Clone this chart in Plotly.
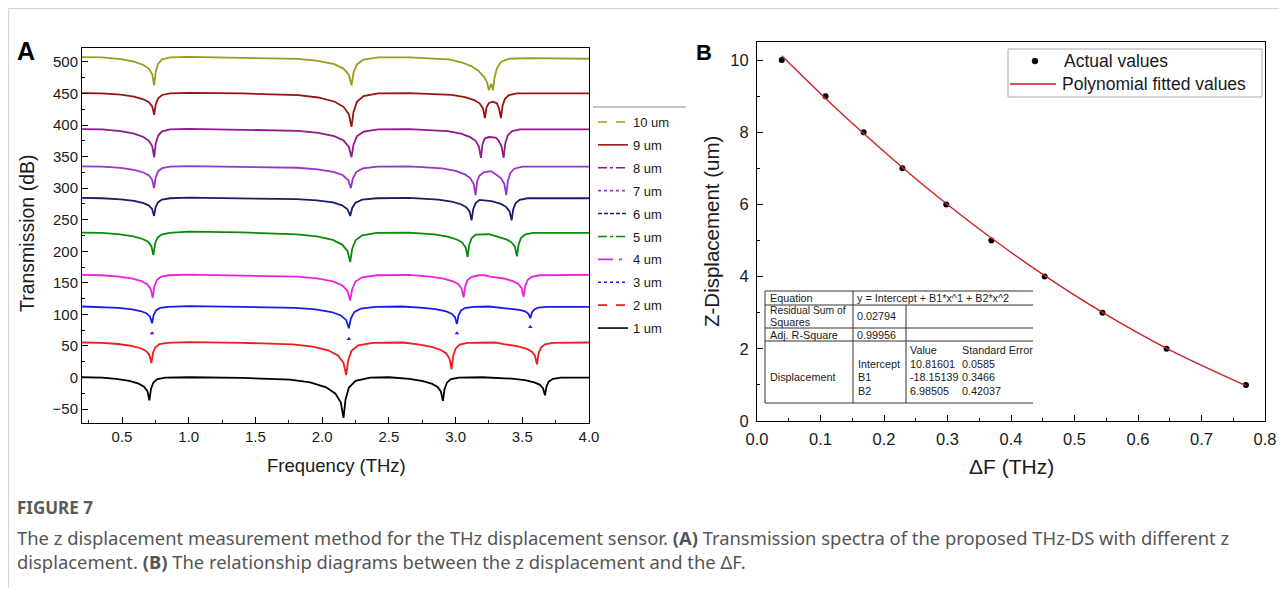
import plotly.graph_objects as go

# page is 1287x596; the figure div sits 8px inside the page (body margin)
PAGE_OFF = 8
W, H = 1287 - 2 * PAGE_OFF, 596 - 2 * PAGE_OFF

# ---------------- Panel A data ----------------
series_names = ["1 um", "2 um", "3 um", "4 um", "5 um", "6 um", "7 um", "8 um", "9 um", "10 um"]

freq_1 = [0.20, 0.35, 0.455, 0.555, 0.625, 0.665, 0.690, 0.705, 0.717, 0.735, 0.765, 0.825, 1.00, 1.40,
          1.76, 1.91, 2.03, 2.10, 2.14, 2.16, 2.175, 2.20, 2.25, 2.36, 2.50,
          2.655, 2.755, 2.825, 2.865, 2.89, 2.905, 2.917, 2.935, 2.965, 3.025, 3.20,
          3.42, 3.52, 3.59, 3.63, 3.655, 3.67, 3.682, 3.70, 3.73, 3.79, 4.00]
trans_1 = [0.5, 0, -2.2, -5.4, -9.7, -14.4, -21.6, -36, -18, -7.9, -2.5, 0, 0.5, -0.5,
           -3.2, -7.7, -15.4, -25.6, -39.7, -64, -35.2, -16, -5.1, 0, 0.5,
           -2.2, -5.6, -10, -14.8, -22.2, -37, -18.5, -8.1, -2.6, 0, 0.5,
           -1.7, -4.2, -7.6, -11.2, -16.8, -28, -14, -6.2, -2, 0, 0]

freq_2 = [0.20, 0.35, 0.47, 0.57, 0.64, 0.68, 0.705, 0.72, 0.732, 0.75, 0.78, 0.84, 1.00, 1.40,
          1.78, 1.93, 2.05, 2.12, 2.16, 2.18, 2.195, 2.22, 2.27, 2.38, 2.60,
          2.72, 2.82, 2.89, 2.93, 2.955, 2.97, 2.982, 3.00, 3.03, 3.09, 3.30,
          3.36, 3.46, 3.53, 3.57, 3.595, 3.61, 3.622, 3.64, 3.67, 3.73, 4.00]
trans_2 = [55.5, 55, 53.1, 50.2, 46.4, 42.2, 35.8, 23, 39, 48, 52.8, 55, 56, 55,
           52.4, 48.9, 42.8, 34.6, 23.4, 4, 27, 42.2, 50.9, 55, 55.5,
           52.5, 48.7, 43.7, 38.2, 29.8, 13, 34, 45.8, 52.1, 55, 55.5,
           53, 49.9, 45.8, 41.4, 34.6, 21, 38, 47.5, 52.6, 55, 55.5]

freq_3 = [0.20, 0.35, 0.475, 0.575, 0.645, 0.685, 0.71, 0.725, 0.737, 0.755, 0.785, 0.845, 1.00, 1.40,
          1.80, 1.95, 2.07, 2.14, 2.18, 2.20, 2.215, 2.24, 2.29, 2.40, 2.60,
          2.76, 2.86, 2.93, 2.97, 2.995, 3.01, 3.022, 3.04, 3.07, 3.13, 3.25,
          3.31, 3.41, 3.48, 3.52, 3.545, 3.56, 3.572, 3.59, 3.62, 3.68, 4.00]
trans_3 = [112.5, 112, 110.4, 108.1, 105, 101.6, 96.4, 86, 99, 106.3, 110.2, 112, 113, 112,
           110.3, 107.9, 103.8, 98.4, 90.9, 78, 93.3, 103.5, 109.3, 112, 112.5,
           110.4, 107.9, 104.7, 101.2, 95.8, 85, 98.5, 106.1, 110.1, 112, 112.5,
           110.9, 109.3, 107.1, 104.8, 101.2, 94, 103, 108, 110.7, 112, 112]
# stray symbols of the dotted 3 um curve below its dips
stray_freq_3 = [0.725, 2.20, 3.01, 3.56]
stray_trans_3 = [70, 61, 70, 80]

freq_4 = [0.20, 0.35, 0.48, 0.58, 0.65, 0.69, 0.715, 0.73, 0.742, 0.76, 0.79, 0.85, 1.00, 1.40,
          1.81, 1.96, 2.08, 2.15, 2.19, 2.21, 2.225, 2.25, 2.30, 2.41, 2.65,
          2.81, 2.91, 2.98, 3.02, 3.045, 3.06, 3.072, 3.09, 3.12, 3.18, 3.22,
          3.26, 3.36, 3.43, 3.47, 3.495, 3.51, 3.522, 3.54, 3.57, 3.63, 4.00]
trans_4 = [162.5, 162, 159.8, 156.6, 152.3, 147.6, 140.4, 126, 144, 154.1, 159.5, 162, 163, 162,
           160, 157.2, 152.4, 146, 137.2, 122, 140, 152, 158.8, 162, 162.5,
           159.9, 156.7, 152.5, 148, 141, 127, 144.5, 154.3, 159.5, 162, 162,
           160, 156.9, 152.8, 148.4, 141.6, 128, 145, 154.5, 159.6, 162, 162.5]

freq_5 = [0.20, 0.35, 0.485, 0.585, 0.655, 0.695, 0.72, 0.735, 0.747, 0.765, 0.795, 0.855, 1.00, 1.40,
          1.81, 1.96, 2.08, 2.15, 2.19, 2.21, 2.225, 2.25, 2.30, 2.41, 2.65,
          2.84, 2.94, 3.01, 3.05, 3.075, 3.09, 3.102, 3.12, 3.15, 3.25,
          3.31, 3.38, 3.42, 3.445, 3.46, 3.472, 3.49, 3.52, 3.58, 4.00]
trans_5 = [229.5, 229, 226.9, 223.7, 219.5, 215, 208, 194, 211.5, 221.3, 226.5, 229, 231, 230,
           226.7, 223.5, 218, 210.6, 200.5, 183, 203.7, 217.5, 225.3, 229, 229.5,
           226.7, 223.3, 218.7, 213.8, 206.2, 191, 210, 220.6, 226.3, 227,
           223.4, 219, 214.2, 206.8, 192, 210.5, 220.9, 226.4, 229, 229]

freq_6 = [0.20, 0.35, 0.49, 0.59, 0.66, 0.70, 0.725, 0.74, 0.752, 0.77, 0.80, 0.86, 1.00, 1.40,
          1.81, 1.96, 2.08, 2.15, 2.19, 2.21, 2.225, 2.25, 2.30, 2.41, 2.65,
          2.87, 2.97, 3.04, 3.08, 3.105, 3.12, 3.132, 3.15, 3.18, 3.27,
          3.34, 3.38, 3.405, 3.42, 3.432, 3.45, 3.48, 3.54, 4.00]
trans_6 = [284.5, 284, 282.3, 279.8, 276.4, 272.8, 267.2, 256, 270, 277.8, 282, 284, 285, 284,
           282.6, 280.6, 277.3, 272.8, 266.6, 256, 268.6, 277, 281.8, 284, 284.5,
           281.9, 278.7, 274.5, 270, 263, 249, 266.5, 276.3, 281.5, 279.5,
           275, 270, 263, 249, 266.5, 276.3, 281.5, 284, 284]

freq_7 = [0.20, 0.35, 0.49, 0.59, 0.66, 0.70, 0.725, 0.74, 0.752, 0.77, 0.80, 0.86, 1.00, 1.40,
          1.815, 1.965, 2.085, 2.155, 2.195, 2.215, 2.23, 2.255, 2.305, 2.415, 2.65,
          2.90, 3.00, 3.07, 3.11, 3.135, 3.15, 3.162, 3.18, 3.21, 3.265,
          3.30, 3.34, 3.365, 3.38, 3.392, 3.41, 3.44, 3.50, 4.00]
trans_7 = [334.5, 334, 332, 328.9, 324.8, 320.4, 313.6, 300, 317, 326.5, 331.6, 334, 335, 334,
           332.3, 329.9, 325.8, 320.4, 312.9, 300, 315.3, 325.5, 331.3, 334, 334.5,
           331.3, 327.2, 321.8, 316, 307, 289, 311.5, 320, 325, 327,
           322, 316, 307, 289, 311.5, 324, 330.8, 334, 334]

freq_8 = [0.20, 0.35, 0.49, 0.59, 0.66, 0.70, 0.726, 0.741, 0.753, 0.771, 0.80, 0.86, 1.00, 1.40,
          1.82, 1.97, 2.09, 2.16, 2.20, 2.22, 2.235, 2.26, 2.31, 2.42, 2.65,
          2.94, 3.04, 3.11, 3.15, 3.175, 3.19, 3.202, 3.22, 3.25, 3.275,
          3.30, 3.32, 3.345, 3.36, 3.372, 3.39, 3.42, 3.48, 4.00]
trans_8 = [393.5, 393, 390.4, 386.4, 381.1, 375.4, 366.6, 349, 371, 383.3, 389.9, 393, 394, 393,
           390.8, 387.7, 382.4, 375.4, 365.7, 349, 368.8, 382, 389.5, 393, 393.5,
           390.3, 386.2, 380.8, 375, 366, 348, 370, 379, 381, 381,
           380, 376, 366, 348, 370.5, 383, 390, 393, 393]

freq_9 = [0.20, 0.35, 0.49, 0.59, 0.66, 0.70, 0.726, 0.741, 0.753, 0.771, 0.80, 0.86, 1.00, 1.40,
          1.82, 1.97, 2.09, 2.16, 2.20, 2.22, 2.235, 2.26, 2.31, 2.42, 2.65,
          2.97, 3.07, 3.14, 3.18, 3.205, 3.22, 3.232, 3.25, 3.28,
          3.31, 3.325, 3.34, 3.352, 3.37, 3.40, 3.46, 4.00]
trans_9 = [450.5, 450, 448, 444.9, 440.8, 436.4, 429.6, 416, 433, 442.5, 447.6, 450, 451, 450,
           447.3, 443.6, 437.3, 428.8, 417.1, 397, 420.8, 436.7, 445.8, 450, 450.5,
           447.7, 444.2, 439.5, 434.4, 426.6, 411, 428, 435, 437,
           434.4, 426.6, 411, 430.5, 441.4, 447.3, 450, 450]

freq_10 = [0.20, 0.35, 0.49, 0.59, 0.66, 0.70, 0.726, 0.741, 0.753, 0.771, 0.80, 0.86, 1.00, 1.40,
           1.82, 1.97, 2.09, 2.16, 2.20, 2.22, 2.235, 2.26, 2.31, 2.42, 2.65,
           2.95, 3.05, 3.12, 3.17, 3.21, 3.235, 3.25, 3.258, 3.265, 3.272, 3.28,
           3.292, 3.31, 3.34, 3.40, 3.55, 4.00]
trans_10 = [507.5, 507, 504.4, 500.4, 495.1, 489.4, 480.6, 463, 485, 497.3, 503.9, 507, 508, 507,
            504.8, 501.7, 496.4, 489.4, 479.7, 463, 482.8, 496, 503.5, 507, 507,
            504, 499, 493, 486, 477, 468, 455, 463, 465, 463, 455,
            475, 490, 500, 505, 506, 505]

all_freq = [freq_1, freq_2, freq_3, freq_4, freq_5, freq_6, freq_7, freq_8, freq_9, freq_10]
all_trans = [trans_1, trans_2, trans_3, trans_4, trans_5, trans_6, trans_7, trans_8, trans_9, trans_10]
for fx, ty in zip(all_freq, all_trans):
    assert len(fx) == len(ty)

# ---------------- Panel B data ----------------
delta_f = [0.039, 0.108, 0.168, 0.229, 0.298, 0.369, 0.453, 0.544, 0.645, 0.770]
z_disp = [10, 9, 8, 7, 6, 5, 4, 3, 2, 1]
fit_intercept, fit_b1, fit_b2 = 10.81601, -18.15139, 6.98505
err_intercept, err_b1, err_b2 = "0.0585", "0.3466", "0.42037"
rss_text, adj_r2_text = "0.02794", "0.99956"
fitted_z = [fit_intercept + fit_b1 * x + fit_b2 * x * x for x in delta_f]

# ---------------- styles ----------------
colors = ["#000000", "#ee1c1c", "#1a1aee", "#ee22dd", "#0a8a0a",
          "#1c1c6e", "#9933cc", "#8e1a8e", "#981414", "#9b9b1e"]
dashes = ["solid", "dash", "dot", "longdashdot", "dashdot",
          "4px,2px", "dot", "dashdot", "solid", "dash"]

FONT = "Arial, Liberation Sans, sans-serif"


def px(x):
    """page pixel x -> paper fraction"""
    return (x - PAGE_OFF) / W


def py(y):
    """page pixel y -> paper fraction"""
    return 1 - (y - PAGE_OFF) / H


fig = go.Figure()

for name, fx, ty, col in zip(series_names, all_freq, all_trans, colors):
    fig.add_trace(go.Scatter(x=fx, y=ty, mode="lines", name=name,
                             line=dict(color=col, width=1.8),
                             showlegend=False, hoverinfo="skip",
                             xaxis="x", yaxis="y"))
fig.add_trace(go.Scatter(x=stray_freq_3, y=stray_trans_3, mode="markers",
                         marker=dict(symbol="triangle-up", size=4, color=colors[2]),
                         showlegend=False, hoverinfo="skip", xaxis="x", yaxis="y"))

# legend entries (top: 10 um)
for i in range(9, -1, -1):
    fig.add_trace(go.Scatter(x=[None], y=[None], mode="lines", name=series_names[i],
                             line=dict(color=colors[i], width=1.6, dash=dashes[i]),
                             legend="legend", legendgroup=series_names[i],
                             xaxis="x", yaxis="y"))

fig.add_trace(go.Scatter(x=delta_f, y=z_disp, mode="markers", name="Actual values",
                         marker=dict(color="black", size=6), showlegend=False,
                         xaxis="x2", yaxis="y2"))
fig.add_trace(go.Scatter(x=delta_f, y=fitted_z, mode="lines", name="Polynomial fitted values",
                         line=dict(color="#cc2222", width=1.4, shape="spline"), showlegend=False,
                         xaxis="x2", yaxis="y2"))

axis_common = dict(showline=True, linecolor="black", linewidth=1, mirror=True,
                   ticks="inside", ticklen=6, tickcolor="black", showgrid=False,
                   zeroline=False, automargin=False)

fig.update_layout(
    template="none",
    width=W, height=H, autosize=False,
    margin=dict(l=0, r=0, t=0, b=0, pad=0),
    paper_bgcolor="white", plot_bgcolor="white",
    font=dict(family=FONT, color="#1a1a1a"),
    xaxis=dict(domain=[px(82), px(589)], range=[0.2, 4.0], tick0=0, dtick=0.5,
               tickformat=".1f", anchor="y", tickfont=dict(size=15),
               minor=dict(ticks="inside", ticklen=3, dtick=0.25, tickcolor="black"),
               **axis_common),
    yaxis=dict(domain=[py(423), py(48)], range=[-72, 522], tick0=0, dtick=50,
               anchor="x", tickfont=dict(size=15),
               minor=dict(ticks="inside", ticklen=3, dtick=25, tickcolor="black"),
               **axis_common),
    xaxis2=dict(domain=[px(757), px(1265)], range=[0, 0.8], tick0=0, dtick=0.1,
                tickformat=".1f", anchor="y2", tickfont=dict(size=16.5),
                ticklabelstandoff=3,
                minor=dict(ticks="inside", ticklen=3, dtick=0.05, tickcolor="black"),
                **axis_common),
    yaxis2=dict(domain=[py(421), py(42)], range=[0, 10.5], tick0=0, dtick=2,
                anchor="x2", tickfont=dict(size=16.5), ticklabelstandoff=4,
                minor=dict(ticks="inside", ticklen=3, dtick=1, tickcolor="black"),
                **axis_common),
    legend=dict(x=px(593), y=py(107), xanchor="left", yanchor="top",
                font=dict(size=13, family=FONT), bgcolor="rgba(0,0,0,0)",
                borderwidth=0, traceorder="grouped", tracegroupgap=3),
)

shapes = []
# outer page border (top and left), at the edge of the figure area
shapes.append(dict(type="line", xref="paper", yref="paper", x0=0.0005, x1=1, y0=0.999, y1=0.999,
                   line=dict(color="#d4d4d4", width=1)))
shapes.append(dict(type="line", xref="paper", yref="paper", x0=0.0005, x1=0.0005, y0=0.999, y1=0,
                   line=dict(color="#d4d4d4", width=1)))
# line on top of legend A
shapes.append(dict(type="line", xref="paper", yref="paper", x0=px(593), x1=px(686), y0=py(107), y1=py(107),
                   line=dict(color="#888888", width=1)))
# legend B frame and symbols
shapes.append(dict(type="rect", xref="paper", yref="paper", x0=px(1008), x1=px(1262), y0=py(49), y1=py(97),
                   line=dict(color="#aaaaaa", width=1), fillcolor="white"))
shapes.append(dict(type="circle", xref="paper", yref="paper", x0=px(1032), x1=px(1038), y0=py(58), y1=py(64),
                   line=dict(color="black", width=0.5), fillcolor="black"))
shapes.append(dict(type="line", xref="paper", yref="paper", x0=px(1010), x1=px(1056), y0=py(84), y1=py(84),
                   line=dict(color="#cc2222", width=1.4)))
# table lines
for yy in [291, 305, 328, 341, 403]:
    shapes.append(dict(type="line", xref="paper", yref="paper", x0=px(765), x1=px(1033), y0=py(yy), y1=py(yy),
                       line=dict(color="#333333", width=1)))
shapes.append(dict(type="line", xref="paper", yref="paper", x0=px(765), x1=px(765), y0=py(291), y1=py(403),
                   line=dict(color="#333333", width=1)))
shapes.append(dict(type="line", xref="paper", yref="paper", x0=px(853), x1=px(853), y0=py(291), y1=py(403),
                   line=dict(color="#333333", width=1)))
shapes.append(dict(type="line", xref="paper", yref="paper", x0=px(906), x1=px(906), y0=py(305), y1=py(403),
                   line=dict(color="#333333", width=1)))
fig.update_layout(shapes=shapes)

ann = []


def text(t, x, y, size, xanchor="left", angle=0, color="#1a1a1a", family=FONT, bold=False):
    ann.append(dict(text=("<b>%s</b>" % t) if bold else t, x=px(x), y=py(y), xref="paper", yref="paper",
                    xanchor=xanchor, yanchor="middle", showarrow=False, textangle=angle,
                    font=dict(size=size, color=color, family=family)))


text("A", 26, 51, 25, "center", bold=True, color="black")
text("B", 704, 52, 22, "center", bold=True, color="black")
text("Transmission (dB)", 27, 234, 19.5, "center", angle=-90)
text("Frequency (THz)", 336, 465, 18.5, "center")
text("Z-Displacement (um)", 711, 232, 20.5, "center", angle=-90)
text("ΔF (THz)", 1011, 466, 21, "center")

text("Actual values", 1062, 61, 17.5)
text("Polynomial fitted values", 1060, 84, 17.5)

TS = 10.8
text("Equation", 768, 298, TS)
text("y = Intercept + B1*x^1 + B2*x^2", 855, 298, TS)
text("Residual Sum of", 768, 310, 10.3)
text("Squares", 768, 322, TS)
text(rss_text, 855, 316, TS)
text("Adj. R-Square", 768, 335, TS)
text(adj_r2_text, 855, 335, TS)
text("Value", 908, 350, TS)
text("Standard Error", 960, 350, TS)
text("Intercept", 856, 364, TS)
text("%.5f" % fit_intercept, 908, 364, TS)
text(err_intercept, 960, 364, TS)
text("Displacement", 768, 377, TS)
text("B1", 856, 377, TS)
text("%.5f" % fit_b1, 908, 377, TS)
text(err_b1, 960, 377, TS)
text("B2", 856, 391, TS)
text("%.5f" % fit_b2, 908, 391, TS)
text(err_b2, 960, 391, TS)

CAP = "Noto Sans, sans-serif"
text("<b>FIGURE 7</b>", 15, 508, 17, color="#5a5a5a", family=CAP)
text("The z displacement measurement method for the THz displacement sensor. <b>(A)</b> Transmission spectra "
     "of the proposed THz-DS with different z", 15, 537, 18.4, color="#555555", family=CAP)
text("displacement. <b>(B)</b> The relationship diagrams between the z displacement and the ΔF.",
     15, 561, 18.4, color="#555555", family=CAP)

fig.update_layout(annotations=ann)

fig.write_html("out.html")
